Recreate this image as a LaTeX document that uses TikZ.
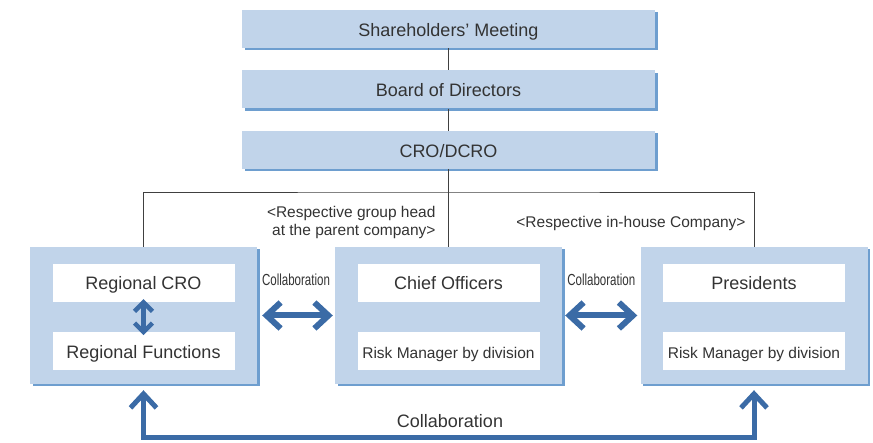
\documentclass[tikz,border=0pt]{standalone}
\usepackage{fontspec}
\setmainfont{Liberation Sans}
\newfontfamily\narrowfont[FakeStretch=0.72]{Liberation Sans}
\usetikzlibrary{arrows.meta,positioning,shadows}
\definecolor{boxblue}{HTML}{C1D4EA}
\definecolor{shadeblue}{HTML}{6E9ECF}
\definecolor{arrowblue}{HTML}{3B6BA6}
\definecolor{txtgray}{HTML}{333333}

\begin{document}
\begin{tikzpicture}[
    x=1pt, y=-1pt,
    font=\fontsize{18}{21}\selectfont, text=txtgray,
    shade/.style={drop shadow={shadow xshift=2.5pt, shadow yshift=-2.5pt, fill=shadeblue, opacity=1}},
    topbox/.style={fill=boxblue, shade, minimum width=413pt, minimum height=38pt, inner sep=0pt,
        text height=15pt, text depth=0pt},
    groupbox/.style={fill=boxblue, shade, minimum width=227pt, minimum height=137pt, inner sep=0pt},
    inbox/.style={fill=white, minimum width=182pt, minimum height=38pt, inner sep=0pt,
        text height=14pt, text depth=0pt},
    small/.style={font=\fontsize{15.5}{18}\selectfont},
    link/.style={draw=black!75, line width=0.8pt},
    collab/.style={font=\narrowfont\fontsize{16}{18}\selectfont, inner sep=0pt},
    bigarrow/.style={draw=arrowblue, line width=6pt, line join=miter,
        {Straight Barb[length=14pt, width=26pt]}-{Straight Barb[length=14pt, width=26pt]}},
    thinarrow/.style={draw=arrowblue, line width=4.5pt,
        {Straight Barb[length=9pt, width=18pt]}-{Straight Barb[length=9pt, width=18pt]}}
]
\useasboundingbox (0,0) rectangle (873,443);

% top of the hierarchy
\node[topbox] (shm) at (448.5,29) {Shareholders’ Meeting};
\node[topbox, below=22pt of shm] (bod) {Board of Directors};
\node[topbox, below=22pt of bod] (cro) {CRO/DCRO};

% groups
\node[groupbox] (lgrp) at (143.5,315.5) {};
\node[groupbox] (mgrp) at (448.5,315.5) {};
\node[groupbox] (rgrp) at (754,315.5) {};

\node[inbox, below=17pt of lgrp.north] (rcro) {Regional CRO};
\node[inbox, below=30pt of rcro] (rfun) {Regional Functions};
\node[inbox, below=17pt of mgrp.north] (chief) {Chief Officers};
\node[inbox, below=30pt of chief, small] (mrisk) {Risk Manager by division};
\node[inbox, below=17pt of rgrp.north] (pres) {Presidents};
\node[inbox, below=30pt of pres, small] (rrisk) {Risk Manager by division};

% reporting lines
\coordinate (bus) at (448.5,192);
\draw[link] (shm) -- (bod);
\draw[link] (bod) -- (cro);
\draw[link] (cro) -- (mgrp);
\draw[link] (lgrp.north) |- (bus) -| (rgrp.north);

\node[small, align=right, anchor=east] (grphead) at (439,222) {<Respective group head\\at the parent company>};
\node[small] (inhouse) at (631,223) {<Respective in-house Company>};

% collaboration
\draw[thinarrow, shorten <=-3pt, shorten >=-3pt] (rcro) -- (rfun);
\draw[bigarrow, shorten <=5pt, shorten >=2pt] (lgrp) -- (mgrp)
    node[collab, midway, above=27pt] {Collaboration};
\draw[bigarrow, shorten <=3pt, shorten >=3pt] (mgrp) -- (rgrp)
    node[collab, midway, above=27pt] {Collaboration};

\coordinate (lb) at (lgrp.south |- 0,438);
\coordinate (rb) at (rgrp.south |- 0,438);
\draw[bigarrow, line width=5pt, shorten <=6pt, shorten >=6pt] (lgrp.south) -- (lb) -- (rb) -- (rgrp.south);
\node (botcollab) at (450,421) {Collaboration};
\end{tikzpicture}
\end{document}
